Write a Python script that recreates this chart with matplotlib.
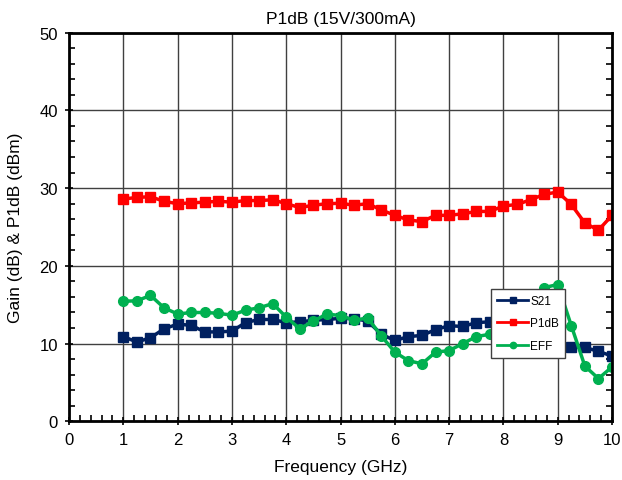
import numpy as np
import matplotlib
matplotlib.use('Agg')
from matplotlib import pyplot as plt
from matplotlib.ticker import MultipleLocator

plt.rcParams['font.family'] = ['Liberation Sans', 'DejaVu Sans']

# data
freq = np.arange(1.0, 10.01, 0.25)
s21 = [10.9, 10.2, 10.75, 11.9, 12.5, 12.35, 11.5, 11.5, 11.6, 12.7,
       13.1, 13.1, 12.7, 12.8, 13.0, 13.1, 13.25, 13.2, 12.9, 11.2,
       10.4, 10.9, 11.05, 11.8, 12.3, 12.2, 12.7, 12.8, 12.6, 12.2,
       11.6, 10.9, 10.3, 9.6, 9.5, 9.0, 8.4]
p1db = [28.6, 28.8, 28.9, 28.3, 28.0, 28.1, 28.2, 28.3, 28.2, 28.4,
        28.4, 28.5, 28.0, 27.5, 27.8, 28.0, 28.05, 27.8, 28.0, 27.2,
        26.5, 25.9, 25.7, 26.5, 26.5, 26.7, 27.0, 27.0, 27.7, 27.9,
        28.5, 29.2, 29.5, 27.9, 25.5, 24.6, 26.5]
eff = [15.45, 15.5, 16.2, 14.6, 13.8, 14.0, 14.0, 13.9, 13.65, 14.3,
       14.6, 15.15, 13.4, 11.9, 12.9, 13.8, 13.6, 13.0, 13.3, 11.0,
       8.9, 7.8, 7.4, 8.9, 9.1, 10.0, 10.9, 11.2, 12.2, 14.0,
       16.0, 17.2, 17.6, 12.3, 7.1, 5.5, 7.0]

fig = plt.figure(figsize=(6.22, 4.81), dpi=100)
ax = fig.add_axes([0.111, 0.122, 0.873, 0.808])

ax.plot(freq, s21, color='#002060', marker='s', markersize=7, lw=2.5, label='S21')
ax.plot(freq, p1db, color='#ff0000', marker='s', markersize=7, lw=2.5, label='P1dB')
ax.plot(freq, eff, color='#00b050', marker='o', markersize=7, lw=2.5, label='EFF')

ax.set_xlim(0, 10)
ax.set_ylim(0, 50)
ax.xaxis.set_major_locator(MultipleLocator(1))
ax.xaxis.set_minor_locator(MultipleLocator(0.2))
ax.yaxis.set_major_locator(MultipleLocator(10))
ax.yaxis.set_minor_locator(MultipleLocator(2))
ax.tick_params(which='major', direction='inout', length=6, width=1.2,
               labelsize=12, top=False, right=False, pad=5)
ax.tick_params(which='minor', direction='in', length=4, width=1.2,
               right=True, top=False)
ax.grid(True, which='major', color='#404040', lw=1)
for s in ax.spines.values():
    s.set_linewidth(2)

ax.set_title('P1dB (15V/300mA)', fontsize=12.5, pad=7)
ax.set_xlabel('Frequency (GHz)', fontsize=12.5, labelpad=8)
ax.set_ylabel('Gain (dB) & P1dB (dBm)', fontsize=12.5, labelpad=12)

leg = ax.legend(loc='lower left', bbox_to_anchor=(0.767, 0.148, 0.13, 0.176),
                fontsize=8.5, frameon=True, fancybox=False, edgecolor='#404040',
                handlelength=2.6, markerscale=0.65, borderpad=0.5,
                labelspacing=0.9, handletextpad=0.2)
leg.get_frame().set_linewidth(1)
leg.get_frame().set_alpha(1)
for l in leg.get_lines():
    l.set_linewidth(2)

fig.savefig('out.png', dpi=100)
